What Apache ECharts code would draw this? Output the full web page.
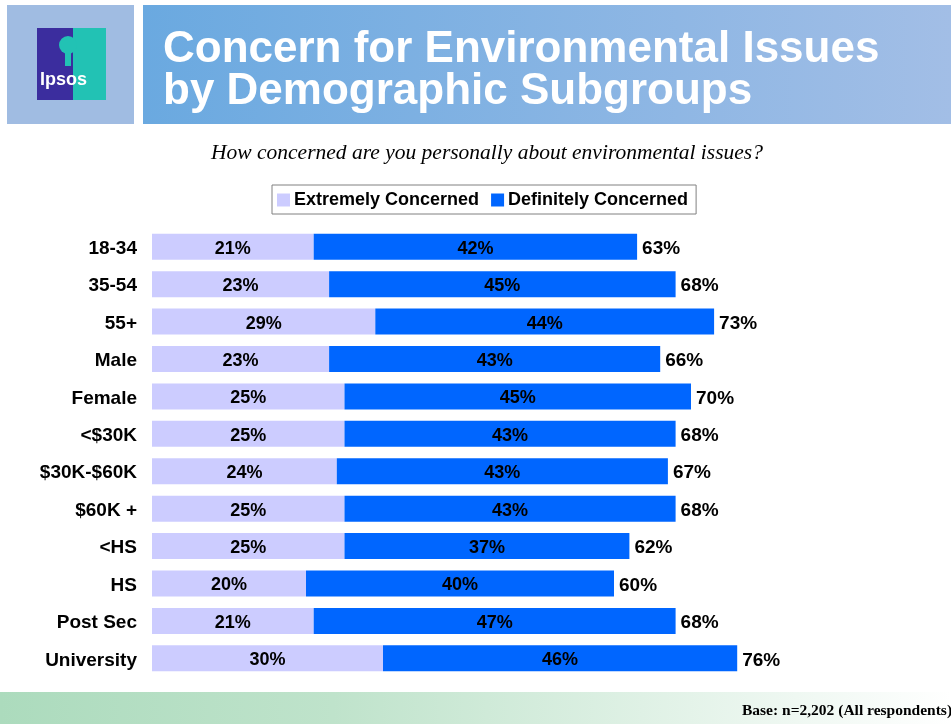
<!DOCTYPE html>
<html><head><meta charset="utf-8">
<script src="https://cdn.jsdelivr.net/npm/echarts@6/dist/echarts.min.js"></script>
<style>html,body{margin:0;padding:0;background:#fff}#c{width:951px;height:724px}</style>
</head><body><div id="c"></div>
<script>
const categories = ['18-34','35-54','55+','Male','Female','<$30K','$30K-$60K','$60K +','<HS','HS','Post Sec','University'];
const extremely = [21,23,29,23,25,25,24,25,25,20,21,30];
const definitely = [42,45,44,43,45,43,43,43,37,40,47,46];
const totals = [63,68,73,66,70,68,67,68,62,60,68,76];
const seriesNames = ['Extremely Concerned','Definitely Concerned'];

const chart = echarts.init(document.getElementById('c'), null, {renderer:'canvas'});
const FONT = 'Liberation Sans, Arial';
const lbl = {show:true, position:'inside', offset:[0,2], color:'#000', fontWeight:'bold', fontSize:18, fontFamily:FONT, formatter: p => p.value + '%'};
chart.setOption({
  animation:false,
  backgroundColor:'#fff',
  graphic:[
    {type:'rect', shape:{x:7,y:5,width:127,height:119}, style:{fill:'#a0bce2'}},
    {type:'rect', shape:{x:37,y:28,width:36,height:72}, style:{fill:'#3b2d9e'}},
    {type:'rect', shape:{x:73,y:28,width:33,height:72}, style:{fill:'#22c2b4'}},
    {type:'circle', shape:{cx:68,cy:45,r:9}, style:{fill:'#22c2b4'}},
    {type:'rect', shape:{x:65,y:52,width:6,height:14}, style:{fill:'#22c2b4'}},
    {type:'text', x:40, y:80, style:{text:'Ipsos', fill:'#fff', font:'bold 18px Liberation Sans, Arial', verticalAlign:'middle'}},
    {type:'rect', shape:{x:143,y:5,width:808,height:119}, style:{fill:new echarts.graphic.LinearGradient(0,0,1,0,[{offset:0,color:'#6aa9e0'},{offset:1,color:'#a2bee6'}])}},
    {type:'text', x:163, y:50, style:{text:'Concern for Environmental Issues', fill:'#fff', font:'bold 44px Liberation Sans, Arial', verticalAlign:'middle'}},
    {type:'text', x:163, y:92, style:{text:'by Demographic Subgroups', fill:'#fff', font:'bold 44px Liberation Sans, Arial', verticalAlign:'middle'}},
    {type:'text', x:487, y:153, style:{text:'How concerned are you personally about environmental issues?', fill:'#000', font:'italic 21.5px Liberation Serif, Times New Roman', align:'center', verticalAlign:'middle'}},
    {type:'rect', shape:{x:0,y:692,width:951,height:32}, style:{fill:new echarts.graphic.LinearGradient(0,0,1,0,[{offset:0,color:'#acdbbd'},{offset:0.35,color:'#bfe3cb'},{offset:1,color:'#ffffff'}])}},
    {type:'text', x:742, y:711, style:{text:'Base: n=2,202 (All respondents)', fill:'#000', font:'bold 15.5px Liberation Serif, Times New Roman', verticalAlign:'middle'}}
  ],
  legend:{
    data:seriesNames, left:272, top:185, padding:[6,8,5,5], itemWidth:13, itemHeight:13, itemGap:12,
    icon:'rect', borderColor:'#808080', borderWidth:1, backgroundColor:'#fff',
    textStyle:{fontWeight:'bold', fontSize:18, color:'#000', fontFamily:FONT, padding:[0,0,0,-1]}
  },
  grid:{left:152, top:228, width:770, height:449, containLabel:false},
  xAxis:{type:'value', min:0, max:100, show:false},
  yAxis:{type:'category', data:categories, inverse:true, axisLine:{show:false}, axisTick:{show:false}, axisLabel:{show:false}},
  series:[
    {name:seriesNames[0], type:'bar', stack:'a', data:extremely, barWidth:26, itemStyle:{color:'#ccccff'}, label:lbl},
    {name:seriesNames[1], type:'bar', stack:'a', data:definitely, barWidth:26, itemStyle:{color:'#0066ff'}, label:lbl},
    {name:'Total', type:'bar', data:totals, barWidth:26, barGap:'-100%', z:0, itemStyle:{color:'rgba(0,0,0,0)'},
      label:{show:true, position:'right', distance:5, offset:[0,2], color:'#000', fontWeight:'bold', fontSize:19, fontFamily:FONT, formatter: p => p.value + '%'}},
    {name:'Category', type:'bar', data:totals, barWidth:26, barGap:'-100%', z:0, itemStyle:{color:'rgba(0,0,0,0)'},
      label:{show:true, position:'left', distance:15, offset:[0,2], color:'#000', fontWeight:'bold', fontSize:19, fontFamily:FONT, formatter: p => categories[p.dataIndex]}}
  ]
});
</script></body></html>
